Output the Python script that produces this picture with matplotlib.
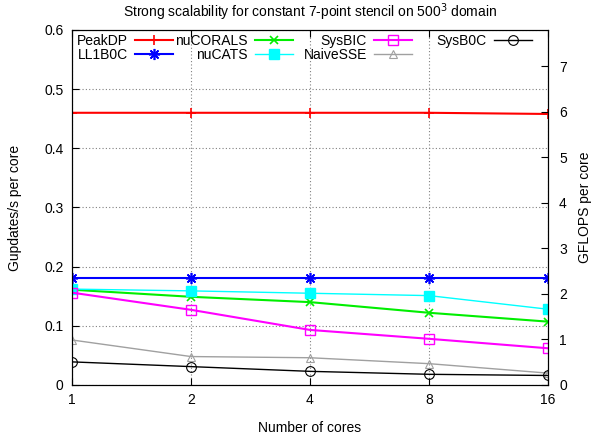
import matplotlib.pyplot as plt
from matplotlib.legend import Legend
from matplotlib.ticker import FixedLocator, NullLocator

plt.rcParams['font.family'] = ['Liberation Sans', 'DejaVu Sans']

cores = [1, 2, 4, 8, 16]

peak_dp = [0.460, 0.460, 0.460, 0.460, 0.458]
ll1b0c = [0.181, 0.181, 0.181, 0.181, 0.181]
nucorals = [0.161, 0.149, 0.140, 0.122, 0.107]
nucats = [0.162, 0.159, 0.155, 0.151, 0.128]
sysbic = [0.156, 0.127, 0.093, 0.078, 0.062]
naivesse = [0.076, 0.048, 0.046, 0.036, 0.020]
sysb0c = [0.039, 0.031, 0.023, 0.018, 0.016]

# 13 flops per stencil update
flops_per_update = 13

fs = 10

fig = plt.figure(figsize=(5.95, 4.34), dpi=100)
ax = fig.add_axes([0.121, 0.113, 0.800, 0.818])

ax.plot(cores, peak_dp, color='#ff0000', lw=1.5, marker='+', ms=7, mew=1.2, label='PeakDP')
ax.plot(cores, ll1b0c, color='#0000ff', lw=1.5, marker=(8, 2, 0), ms=8, mew=1.2, label='LL1B0C')
ax.plot(cores, nucorals, color='#00ee00', lw=1.5, marker='x', ms=6, mew=1.2, label='nuCORALS')
ax.plot(cores, nucats, color='#00ffff', lw=1.0, marker='s', ms=7, mew=1.0, label='nuCATS')
ax.plot(cores, sysbic, color='#ff00ff', lw=1.5, marker='s', ms=7, mfc='none', mew=1.0, label='SysBIC')
ax.plot(cores, naivesse, color='#a0a0a0', lw=1.0, marker='^', ms=6, mfc='none', mew=0.8, label='NaiveSSE')
ax.plot(cores, sysb0c, color='#000000', lw=1.0, marker='o', ms=7, mfc='none', mew=0.8, label='SysB0C')

ax.set_xscale('log', base=2)
ax.set_xlim(1, 16)
ax.xaxis.set_major_locator(FixedLocator(cores))
ax.xaxis.set_minor_locator(NullLocator())
ax.set_xticklabels([str(c) for c in cores])
ax.set_ylim(0, 0.6)
ax.set_yticks([0, 0.1, 0.2, 0.3, 0.4, 0.5, 0.6])
ax.set_yticklabels(['0', '0.1', '0.2', '0.3', '0.4', '0.5', '0.6'])
ax.tick_params(axis='x', direction='in', top=True, length=5, labelsize=fs, pad=6)
ax.tick_params(axis='y', direction='in', right=False, length=5, labelsize=fs, pad=6)
ax.grid(True, color='#808080', linestyle=(0, (1, 2)), linewidth=0.8)

ax.set_xlabel('Number of cores', fontsize=fs, labelpad=10)
ax.set_ylabel('Gupdates/s per core', fontsize=fs, labelpad=16)
ax.set_title('Strong scalability for constant 7-point stencil on 500$^3$ domain', fontsize=fs, pad=9)

ax2 = ax.twinx()
ax2.set_ylim(0, 0.6 * flops_per_update)
ax2.set_yticks(range(0, 8))
ax2.tick_params(axis='y', direction='in', length=5, labelsize=fs, pad=8)
ax2.set_ylabel('GFLOPS per core', fontsize=fs, labelpad=8)

# key laid out in fixed-width columns, text right-aligned before the sample
handles, labels = ax.get_legend_handles_labels()
columns = [(0, 2), (2, 4), (4, 6), (6, 7)]
column_right = [0.212, 0.464, 0.714, 0.966]
for (i0, i1), xr in zip(columns, column_right):
    leg = Legend(ax2, handles[i0:i1], labels[i0:i1], loc='upper right',
                 bbox_to_anchor=(xr, 0.989), frameon=False, markerfirst=False,
                 fontsize=fs, handlelength=2.74, handletextpad=0.5,
                 labelspacing=0.0, borderpad=0.0, borderaxespad=0.0)
    for txt in leg.get_texts():
        txt.set_horizontalalignment('right')
    ax2.add_artist(leg)

fig.savefig('out.png', dpi=100)
